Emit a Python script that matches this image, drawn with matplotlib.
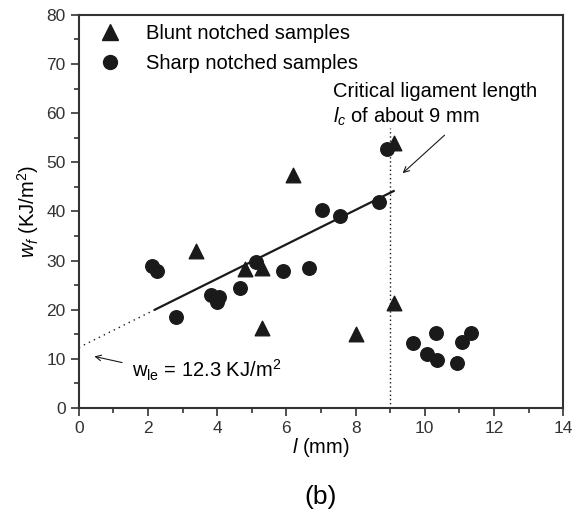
import matplotlib
matplotlib.use("Agg")
import matplotlib.pyplot as plt
from matplotlib.ticker import MultipleLocator
from matplotlib.lines import Line2D

plt.rcParams['font.family'] = ['Liberation Sans', 'DejaVu Sans']
plt.rcParams['mathtext.fontset'] = 'custom'
plt.rcParams['mathtext.rm'] = 'Liberation Sans'
plt.rcParams['mathtext.it'] = 'Liberation Sans:italic'

# blunt notched samples (triangles)
blunt_l = [3.4, 4.8, 5.3, 5.3, 6.2, 8.0, 9.1, 9.12]
blunt_w = [32.0, 28.2, 28.4, 16.2, 47.5, 15.1, 21.3, 53.9]

# sharp notched samples (circles)
sharp_l = [2.1, 2.25, 2.8, 3.81, 4.0, 4.06, 4.66, 5.12, 5.91, 6.66, 7.02, 7.55,
           8.69, 8.9, 9.67, 10.06, 10.33, 10.36, 10.93, 11.07, 11.33]
sharp_w = [28.8, 27.8, 18.5, 23.0, 21.6, 22.5, 24.4, 29.8, 27.9, 28.4, 40.3, 39.0,
           42.0, 52.7, 13.3, 11.0, 15.3, 9.8, 9.2, 13.5, 15.3]

# linear fit w_f = w_e + beta*l
w_le = 12.3
slope = 3.5
fit_start, fit_end = 2.2, 9.1
l_crit = 9.0

fig = plt.figure(figsize=(5.8, 5.15), dpi=100)
ax = fig.add_axes([0.136, 0.208, 0.835, 0.763])

ax.scatter(blunt_l, blunt_w, marker='^', s=110, color='#1a1a1a', zorder=3)
ax.scatter(sharp_l, sharp_w, marker='o', s=95, color='#1a1a1a', zorder=3)

# fit line: solid over the data, dotted extrapolation to l = 0
ax.plot([fit_start, fit_end], [w_le + slope * fit_start, w_le + slope * fit_end],
        color='#1a1a1a', lw=1.6, zorder=2)
ax.plot([0, fit_start], [w_le, w_le + slope * fit_start],
        color='#1a1a1a', lw=1.0, ls=(0, (1, 3)), zorder=2)

# critical ligament length
ax.plot([l_crit, l_crit], [0, 57], color='#1a1a1a', lw=1.0, ls=(0, (1, 2)), zorder=1)

ax.annotate('', xy=(9.3, 47.4), xytext=(10.63, 55.9),
            arrowprops=dict(arrowstyle='->', color='#1a1a1a', lw=0.8))
ax.text(7.34, 64.4, 'Critical ligament length', fontsize=14.5, va='center', ha='left')
ax.text(7.34, 59.3, r'$l_c$ of about 9 mm', fontsize=14.5, va='center', ha='left')

ax.annotate('', xy=(0.37, 10.6), xytext=(1.33, 9.1),
            arrowprops=dict(arrowstyle='->', color='#1a1a1a', lw=0.8))
ax.text(1.55, 7.7, r'w$_{\rm le}$ = 12.3 KJ/m$^2$', fontsize=14.5, va='center', ha='left')

handles = [Line2D([], [], marker='^', ls='none', color='#1a1a1a', markersize=11),
           Line2D([], [], marker='o', ls='none', color='#1a1a1a', markersize=10)]
ax.legend(handles, ['Blunt notched samples', 'Sharp notched samples'],
          loc='upper left', bbox_to_anchor=(0.013, 1.0), frameon=False,
          fontsize=14.5, handletextpad=0.95, labelspacing=0.55, borderaxespad=0.05,
          handlelength=1.6)

ax.set_xlim(0, 14)
ax.set_ylim(0, 80)
ax.xaxis.set_major_locator(MultipleLocator(2))
ax.xaxis.set_minor_locator(MultipleLocator(1))
ax.yaxis.set_major_locator(MultipleLocator(10))
ax.yaxis.set_minor_locator(MultipleLocator(5))
ax.tick_params(which='both', direction='out', top=False, right=False,
               labelsize=12.5, colors='#333333', width=1.2)
ax.tick_params(which='major', length=6)
ax.tick_params(which='minor', length=3.5)
for sp in ax.spines.values():
    sp.set_linewidth(1.5)
    sp.set_color('#333333')

ax.set_xlabel(r'$l$ (mm)', fontsize=14.5, labelpad=0)
ax.set_ylabel(r'$w_f$ (KJ/m$^2$)', fontsize=14.5, labelpad=4)

fig.text(0.5 * (0.136 + 0.971), 0.035, '(b)', fontsize=19, ha='center', va='center')

fig.savefig('out.png', dpi=100)
